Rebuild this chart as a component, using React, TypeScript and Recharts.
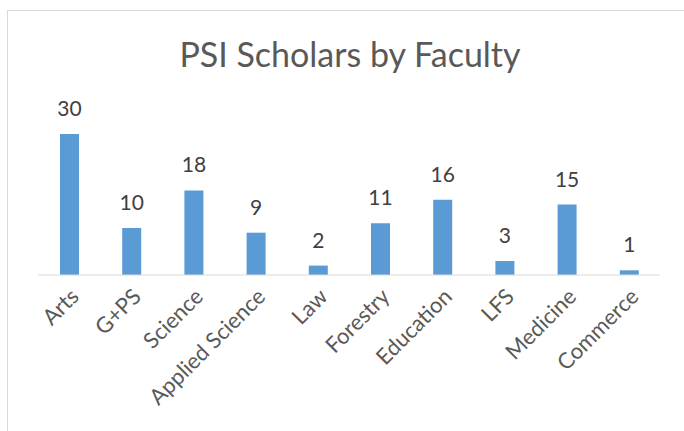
import React from 'react';
import { BarChart, Bar, XAxis, YAxis, LabelList } from 'recharts';

const faculties = ['Arts', 'G+PS', 'Science', 'Applied Science', 'Law', 'Forestry', 'Education', 'LFS', 'Medicine', 'Commerce'];
const scholars = [30, 10, 18, 9, 2, 11, 16, 3, 15, 1];

const data = faculties.map((name, i) => ({ name, value: scholars[i] }));

const FONT = 'Lato, "Open Sans", sans-serif';

const App: React.FC = () => {
  return (
    <div style={{ position: 'fixed', left: 0, top: 0, width: 684, height: 431, overflow: 'hidden', background: '#fff' }}>
      <div style={{ position: 'absolute', left: 7, top: 10, width: 720, height: 460, border: '1px solid #d9d9d9' }} />
      <div
        style={{
          position: 'absolute', left: 0, top: 33, width: 700, textAlign: 'center',
          fontFamily: FONT, fontSize: 34, color: '#595959',
        }}
      >
        PSI Scholars by Faculty
      </div>
      <div style={{ position: 'absolute', left: 0, top: 0 }}>
        <BarChart width={684} height={431} data={data} margin={{ top: 134, right: 24, bottom: 0, left: 38 }}>
          <YAxis hide domain={[0, 30]} />
          <XAxis
            dataKey="name"
            interval={0}
            height={156}
            tickLine={false}
            axisLine={{ stroke: '#d9d9d9', strokeWidth: 1 }}
            tick={{ fill: '#595959', fontSize: 22, fontFamily: FONT }}
            angle={-45}
            textAnchor="end"
            dy={4}
          />
          <Bar dataKey="value" fill="#5b9bd5" barSize={19} isAnimationActive={false}>
            <LabelList dataKey="value" position="top" offset={18} fill="#404040" fontSize={21} fontFamily={FONT} />
          </Bar>
        </BarChart>
      </div>
    </div>
  );
};

export default App;
